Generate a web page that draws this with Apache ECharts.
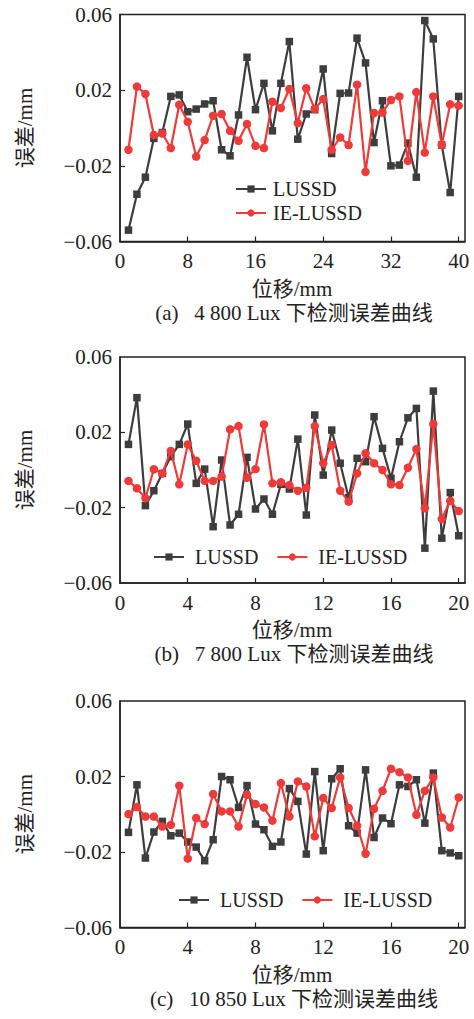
<!DOCTYPE html>
<html>
<head>
<meta charset="utf-8">
<script src="https://cdn.jsdelivr.net/npm/echarts@6/dist/echarts.min.js"></script>
<style>
html,body{margin:0;padding:0;background:#fff;}
#chart{width:474px;height:1019px;}
</style>
</head>
<body>
<div id="chart"></div>
<script>
// ---------- data ----------
const xA = [1,2,3,4,5,6,7,8,9,10,11,12,13,14,15,16,17,18,19,20,21,22,23,24,25,26,27,28,29,30,31,32,33,34,35,36,37,38,39,40];
const xBC = [0.5,1,1.5,2,2.5,3,3.5,4,4.5,5,5.5,6,6.5,7,7.5,8,8.5,9,9.5,10,10.5,11,11.5,12,12.5,13,13.5,14,14.5,15,15.5,16,16.5,17,17.5,18,18.5,19,19.5,20];

const lussdA = [-0.054,-0.035,-0.026,-0.0055,-0.0024,0.0167,0.0175,0.0086,0.010,0.0127,0.0144,-0.0115,-0.0147,0.0069,0.0374,0.0097,0.0236,-0.0015,0.0236,0.0457,-0.0059,0.0074,0.0097,0.0312,-0.0135,0.0183,0.0185,0.0475,0.0344,-0.0077,0.0144,-0.020,-0.0196,-0.008,-0.026,0.0568,0.0471,-0.009,-0.0341,0.0167];
const ieA = [-0.0115,0.0219,0.018,-0.0037,-0.0029,-0.0106,0.0123,0.0033,-0.0151,-0.0064,0.0065,0.0074,-0.0015,-0.0068,0.0021,-0.0094,-0.0106,0.0139,0.0106,0.0206,0.0026,0.021,0.010,0.0153,-0.0115,-0.005,-0.009,0.0229,-0.0232,0.0079,0.0082,0.0148,0.0167,-0.0174,0.019,-0.013,0.0167,-0.009,0.0125,0.0118];

const lussdB = [0.0136,0.0384,-0.0189,-0.011,-0.0018,0.0071,0.0136,0.0244,-0.0071,0.0005,-0.0301,0.0053,-0.0292,-0.0235,0.0067,-0.0207,-0.0154,-0.0235,-0.0076,-0.0101,0.0164,-0.0239,0.0292,-0.0027,0.0212,0.0036,-0.0147,0.0062,0.0044,0.0283,0.0115,-0.0044,0.015,0.0277,0.0327,-0.0415,0.0419,-0.0362,-0.012,-0.0349];
const ieB = [-0.0058,-0.0097,-0.015,0.0004,-0.0018,0.0101,-0.0076,0.0136,0.0049,-0.0058,-0.0058,-0.0035,0.0216,0.0233,-0.0041,0.0005,0.0242,-0.0071,-0.0065,-0.008,-0.011,-0.0094,0.0233,0.0036,0.0133,-0.011,-0.0168,-0.0018,0.0089,0.0036,0.0,-0.0076,-0.008,0.0012,0.0111,-0.0203,0.0244,-0.026,-0.0164,-0.0218];

const lussdC = [-0.0096,0.0156,-0.0232,-0.0094,-0.0038,-0.0114,-0.01,-0.0147,-0.0174,-0.0246,-0.0135,0.02,0.0183,0.0036,0.0152,-0.0052,-0.0082,-0.017,-0.0147,0.0136,0.0068,-0.0211,0.0226,-0.0193,0.0188,0.0241,-0.0061,-0.01,0.0235,-0.0123,-0.002,-0.005,0.0156,0.0147,0.0183,-0.0047,0.0218,-0.0193,-0.0205,-0.022];
const ieC = [0.0001,0.0038,-0.0012,-0.0012,-0.0065,-0.0056,0.0151,-0.0235,-0.002,-0.0052,0.0107,0.0015,0.0015,-0.0065,0.0103,0.0054,0.0036,-0.0034,0.0165,-0.0012,0.0174,0.0147,-0.0117,0.0086,0.0033,0.0195,0.0033,-0.0061,-0.0209,0.0029,0.0124,0.0241,0.0223,0.0195,-0.0003,0.0124,0.0195,-0.0017,-0.007,0.0089];

const yTickValues = [-0.06,-0.02,0.02,0.06];
const yTickLabels = ['\u22120.06','\u22120.02','0.02','0.06'];
const xTicksA = [0,8,16,24,32,40];
const xTicksBC = [0,4,8,12,16,20];
const seriesNames = ['LUSSD','IE-LUSSD'];
const xName = '位移/mm';
const yName = '误差/mm';
const captions = ['(a)   4 800 Lux 下检测误差曲线','(b)   7 800 Lux 下检测误差曲线','(c)   10 850 Lux 下检测误差曲线'];

// ---------- styling ----------
const FONT = '"Liberation Serif", "Noto Sans CJK SC", serif';
const AXC = '#222';
const BLACK = '#3d3d3d';
const RED = '#ef3a3a';

const panels = [
  {top:14.5, height:227, xmax:40.75, xt:xTicksA, xs:xA, l:lussdA, r:ieA},
  {top:357, height:226, xmax:20.37, xt:xTicksBC, xs:xBC, l:lussdB, r:ieB},
  {top:701, height:226.5, xmax:20.37, xt:xTicksBC, xs:xBC, l:lussdC, r:ieC}
];

const grid = [], xAxis = [], yAxis = [], series = [], graphic = [];
panels.forEach((p, i) => {
  grid.push({left:120, width:345, top:p.top, height:p.height, show:true, borderColor:AXC, borderWidth:1.5, backgroundColor:'transparent'});
  xAxis.push({
    type:'value', gridIndex:i, min:0, max:p.xmax,
    axisLine:{show:true, onZero:false, lineStyle:{color:AXC, width:1.5}},
    axisTick:{show:true, inside:true, length:5, lineStyle:{color:AXC, width:1.2}, customValues:p.xt.slice(1)},
    axisLabel:{show:true, customValues:p.xt, margin:9, color:'#222', fontSize:21, fontFamily:FONT,
      formatter:v => String(Math.round(v))},
    splitLine:{show:false}
  });
  yAxis.push({
    type:'value', gridIndex:i, min:-0.06, max:0.06,
    axisLine:{show:true, onZero:false, lineStyle:{color:AXC, width:1.5}},
    axisTick:{show:true, inside:true, length:5, lineStyle:{color:AXC, width:1.2}, customValues:[-0.02,0.02]},
    axisLabel:{show:true, customValues:yTickValues, margin:8, color:'#222', fontSize:21, fontFamily:FONT,
      formatter:v => { let k = 0, best = 1e9; yTickValues.forEach((t,j)=>{const d=Math.abs(t-v); if(d<best){best=d;k=j;}}); return yTickLabels[k]; }},
    splitLine:{show:false}
  });
  series.push({
    name:seriesNames[0], type:'line', xAxisIndex:i, yAxisIndex:i,
    data:p.xs.map((x,j)=>[x,p.l[j]]),
    symbol:'rect', symbolSize:7.5, showSymbol:true,
    lineStyle:{color:BLACK, width:2.2}, itemStyle:{color:BLACK}, z:2
  });
  series.push({
    name:seriesNames[1], type:'line', xAxisIndex:i, yAxisIndex:i,
    data:p.xs.map((x,j)=>[x,p.r[j]]),
    symbol:'circle', symbolSize:8.5, showSymbol:true,
    lineStyle:{color:RED, width:2.2}, itemStyle:{color:RED}, z:3
  });
  const bottom = p.top + p.height;
  graphic.push({
    type:'text', x:25, y:p.top + p.height/2, rotation:Math.PI/2,
    style:{text:yName, font:'21px ' + FONT, fill:'#222', align:'center', verticalAlign:'middle'}
  });
  graphic.push({
    type:'text', x:292, y:bottom + 47,
    style:{text:xName, font:'21px ' + FONT, fill:'#222', align:'center', verticalAlign:'middle'}
  });
  graphic.push({
    type:'text', x:294, y:bottom + 71,
    style:{text:captions[i], font:'21px ' + FONT, fill:'#222', align:'center', verticalAlign:'middle'}
  });
});

const legendText = {fontSize:20, fontFamily:FONT, color:'#222', lineHeight:20};
const legend = [
  {orient:'vertical', left:230, top:174, itemWidth:30, itemHeight:9, itemGap:4, textStyle:Object.assign({padding:[0,0,0,2]}, legendText), data:seriesNames},
  {orient:'horizontal', left:148, top:542, itemWidth:30, itemHeight:9, itemGap:18, textStyle:Object.assign({padding:[0,0,0,6]}, legendText), data:seriesNames},
  {orient:'horizontal', left:173, top:885, itemWidth:30, itemHeight:9, itemGap:18, textStyle:Object.assign({padding:[0,0,0,6]}, legendText), data:seriesNames}
];

const chart = echarts.init(document.getElementById('chart'), null, {renderer:'svg'});
chart.setOption({
  animation:false,
  backgroundColor:'#fff',
  grid, xAxis, yAxis, series, legend, graphic
});
</script>
</body>
</html>
